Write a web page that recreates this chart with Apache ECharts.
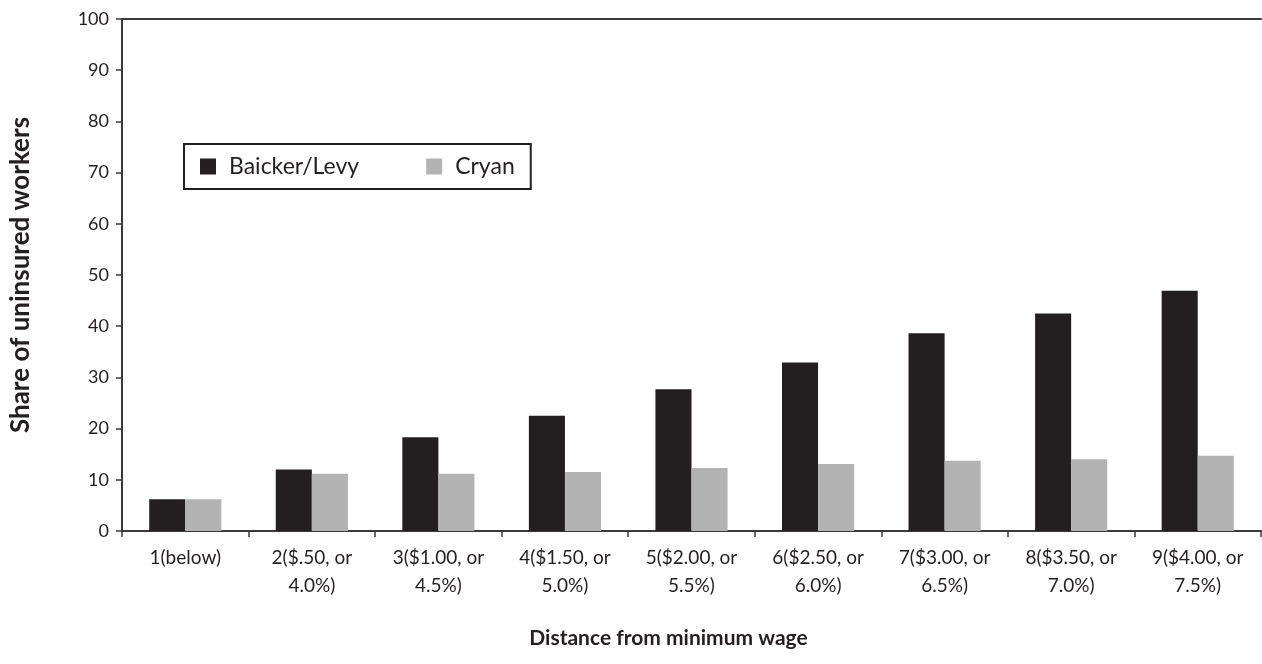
<!DOCTYPE html>
<html>
<head>
<meta charset="utf-8">
<script src="https://cdn.jsdelivr.net/npm/echarts@6/dist/echarts.min.js"></script>
<style>html,body{margin:0;padding:0;background:#fff}#c{width:1262px;height:664px}</style>
</head>
<body>
<div id="c"></div>
<script>
const categories = ['1(below)', '2($.50, or\n4.0%)', '3($1.00, or\n4.5%)', '4($1.50, or\n5.0%)', '5($2.00, or\n5.5%)', '6($2.50, or\n6.0%)', '7($3.00, or\n6.5%)', '8($3.50, or\n7.0%)', '9($4.00, or\n7.5%)'];
const baickerLevy = [6.2, 12.0, 18.3, 22.5, 27.7, 32.9, 38.6, 42.5, 46.9];
const cryan = [6.2, 11.2, 11.2, 11.5, 12.3, 13.1, 13.7, 14.0, 14.7];
const yTicks = {min: 0, max: 100, interval: 10};

const FONT = 'Lato';
const chart = echarts.init(document.getElementById('c'), null, {renderer: 'canvas'});
chart.setOption({
  animation: false,
  textStyle: {fontFamily: FONT},
  grid: {left: 121, right: 1, top: 19, bottom: 133, containLabel: false},
  legend: {
    left: 184, top: 144,
    data: ['Baicker/Levy', 'Cryan'],
    icon: 'rect', itemWidth: 16, itemHeight: 16, itemGap: 67,
    borderColor: '#231f20', borderWidth: 2,
    padding: [11, 16, 11, 16],
    textStyle: {fontFamily: FONT, fontSize: 23, color: '#231f20', padding: [0, 0, 0, 8]}
  },
  xAxis: [{
    type: 'category', data: categories, position: 'bottom',
    axisLine: {lineStyle: {color: '#3a3a3a', width: 2}},
    axisTick: {show: true, length: 6, lineStyle: {color: '#3a3a3a', width: 1.5}},
    axisLabel: {fontFamily: FONT, fontSize: 19, color: '#231f20', lineHeight: 28, margin: 13, interval: 0, align: 'center'},
    name: 'Distance from minimum wage', nameLocation: 'middle', nameGap: 97,
    nameTextStyle: {fontFamily: FONT, fontSize: 21, fontWeight: 'bold', color: '#231f20', padding: [0, 46, 0, 0]}
  }, {
    type: 'category', data: categories, position: 'top',
    axisLine: {lineStyle: {color: '#3a3a3a', width: 2}},
    axisTick: {show: false}, axisLabel: {show: false}
  }],
  yAxis: {
    type: 'value', min: yTicks.min, max: yTicks.max, interval: yTicks.interval,
    axisLine: {show: true, lineStyle: {color: '#3a3a3a', width: 2}},
    axisTick: {show: true, length: 6, lineStyle: {color: '#3a3a3a', width: 1.5}},
    splitLine: {show: false},
    axisLabel: {fontFamily: FONT, fontSize: 18, color: '#231f20', margin: 13},
    name: 'Share of uninsured workers', nameLocation: 'middle', nameGap: 88,
    nameTextStyle: {fontFamily: FONT, fontSize: 26, fontWeight: 'bold', color: '#231f20'}
  },
  series: [{
    name: 'Baicker/Levy', type: 'bar', data: baickerLevy,
    barGap: '0%', barCategoryGap: '43%',
    itemStyle: {color: '#231f20'}
  }, {
    name: 'Cryan', type: 'bar', data: cryan,
    itemStyle: {color: '#b3b3b3'}
  }]
});
</script>
</body>
</html>
